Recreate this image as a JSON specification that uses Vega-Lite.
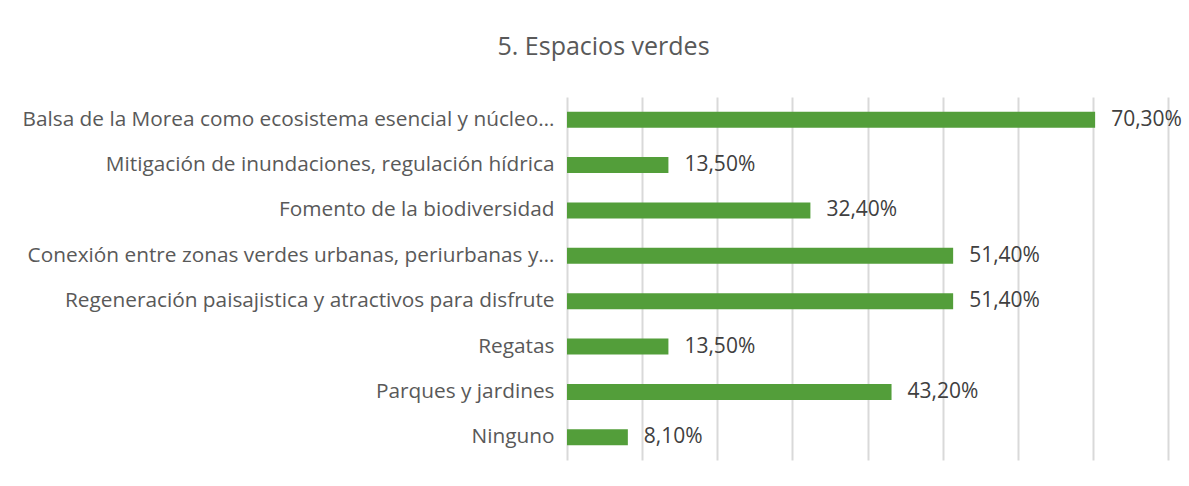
{
  "$schema": "https://vega.github.io/schema/vega-lite/v6.json",
  "width": 601,
  "height": 363,
  "autosize": "none",
  "padding": {"left": 567, "top": 97, "right": 21, "bottom": 26},
  "background": "white",
  "config": {
    "view": {"stroke": null},
    "font": "Open Sans",
    "locale": {"number": {"decimal": ",", "thousands": ".", "grouping": [3], "currency": ["", " €"]}}
  },
  "title": {
    "text": "5. Espacios verdes",
    "fontSize": 25,
    "fontWeight": "normal",
    "color": "#595959",
    "font": "Open Sans",
    "anchor": "middle",
    "dx": -264,
    "offset": 37
  },
  "data": {
    "values": [
      {"cat": "Balsa de la Morea como ecosistema esencial y núcleo…", "v": 0.703},
      {"cat": "Mitigación de inundaciones, regulación hídrica", "v": 0.135},
      {"cat": "Fomento de la biodiversidad", "v": 0.324},
      {"cat": "Conexión entre zonas verdes urbanas, periurbanas y…", "v": 0.514},
      {"cat": "Regeneración paisajistica y atractivos para disfrute", "v": 0.514},
      {"cat": "Regatas", "v": 0.135},
      {"cat": "Parques y jardines", "v": 0.432},
      {"cat": "Ninguno", "v": 0.081}
    ]
  },
  "encoding": {
    "y": {
      "field": "cat",
      "type": "nominal",
      "sort": null,
      "scale": {"paddingInner": 0.65, "paddingOuter": 0.325},
      "axis": {
        "title": null,
        "domain": false,
        "ticks": false,
        "labelFontSize": 20.8,
        "labelColor": "#595959",
        "labelPadding": 13,
        "labelLimit": 600,
        "labelFont": "Open Sans"
      }
    },
    "x": {
      "field": "v",
      "type": "quantitative",
      "scale": {"domain": [0, 0.8], "nice": false},
      "axis": {
        "title": null,
        "labels": false,
        "ticks": false,
        "domain": false,
        "grid": true,
        "gridColor": "#d9d9d9",
        "gridWidth": 2,
        "values": [0, 0.1, 0.2, 0.3, 0.4, 0.5, 0.6, 0.7, 0.8]
      }
    }
  },
  "layer": [
    {"mark": {"type": "bar", "color": "#539e3a"}},
    {
      "mark": {"type": "text", "align": "left", "dx": 16, "fontSize": 21, "color": "#404040", "font": "Open Sans"},
      "encoding": {"text": {"field": "v", "type": "quantitative", "format": ".2%"}}
    }
  ]
}
